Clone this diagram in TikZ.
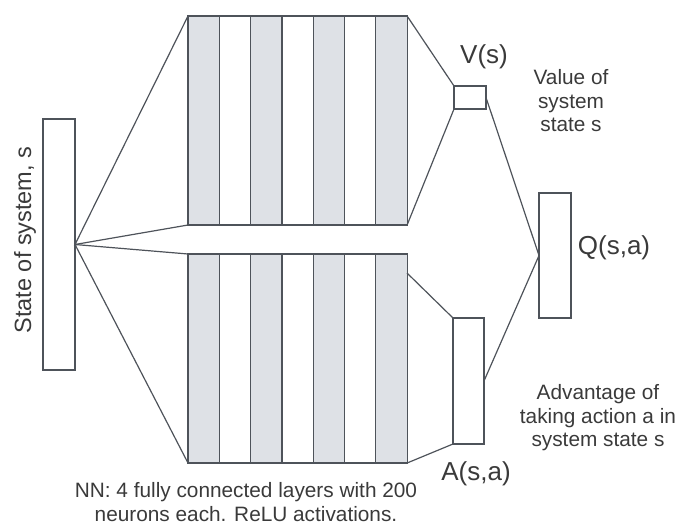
\documentclass[tikz,border=0pt]{standalone}
\usepackage{fontspec}
\setmainfont{Liberation Sans}
\definecolor{edge}{HTML}{4E535A}
\definecolor{layerfill}{HTML}{DEE1E6}
\definecolor{ink}{HTML}{3A3A3A}
\begin{document}
\begin{tikzpicture}[x=1pt,y=-1pt,
  box/.style={draw=edge,line width=1.2pt,fill=white,inner sep=0pt,outer sep=0pt},
  shaded/.style={box,fill=layerfill},
  plain/.style={box},
  wire/.style={draw=edge,line width=1.2pt},
  lbl/.style={text=ink,font=\fontsize{26}{30}\selectfont,inner sep=0pt},
  note/.style={text=ink,font=\fontsize{20.8}{23.5}\selectfont,align=center,inner sep=0pt}]
\useasboundingbox (0,0) rectangle (675,525);

% input vector
\node[box,minimum width=32pt,minimum height=251pt] (in) at (59,244.5) {};
\node[text=ink,font=\fontsize{23.5}{26}\selectfont,rotate=90,inner sep=0pt] (inlbl) at (25,240) {State of system, s};

% two stacks of fully connected layers (value stream on top, advantage stream below)
\foreach \i in {1,...,7}{
  \pgfmathsetmacro{\cx}{188+31.3*(\i-0.5)}
  \pgfmathtruncatemacro{\odd}{mod(\i,2)}
  \ifnum\odd=1
    \node[shaded,minimum width=31.3pt,minimum height=209pt] (U\i) at (\cx,120.5) {};
    \node[shaded,minimum width=31.3pt,minimum height=209pt] (L\i) at (\cx,358.5) {};
  \else
    \node[plain,minimum width=31.3pt,minimum height=209pt] (U\i) at (\cx,120.5) {};
    \node[plain,minimum width=31.3pt,minimum height=209pt] (L\i) at (\cx,358.5) {};
  \fi
}

% heads
\node[box,minimum width=32pt,minimum height=23pt] (V) at (470,97.5) {};
\node[box,minimum width=32pt,minimum height=125pt] (Q) at (555,255.5) {};
\node[box,minimum width=31pt,minimum height=126pt] (A) at (468.5,381) {};
\coordinate (la) at (407,273);

% connectors
\draw[wire] (U1.north west) -- (in.east) -- (U1.south west);
\draw[wire] (L1.north west) -- (in.east) -- (L1.south west);
\draw[wire] (U7.north east) -- (V.north west);
\draw[wire] (U7.south east) -- (V.south west);
\draw[wire] (la) -- (A.north west);
\draw[wire] (L7.south east) -- (A.south west);
\draw[wire] (V.east) -- (Q.west) -- (A.east);

% labels
\node[lbl] (vl) at (484,57) {V(s)};
\node[lbl] (ql) at (614,248) {Q(s,a)};
\node[lbl] (al) at (476,474) {A(s,a)};
\node[note] (vn) at (571,101) {Value of\\system\\state s};
\node[note] (an) at (598,418) {Advantage of\\taking action a in\\system state s};
\node[note] (nn) at (246,502) {NN: 4 fully connected layers with 200\\neurons each. ReLU activations.};
\end{tikzpicture}
\end{document}
